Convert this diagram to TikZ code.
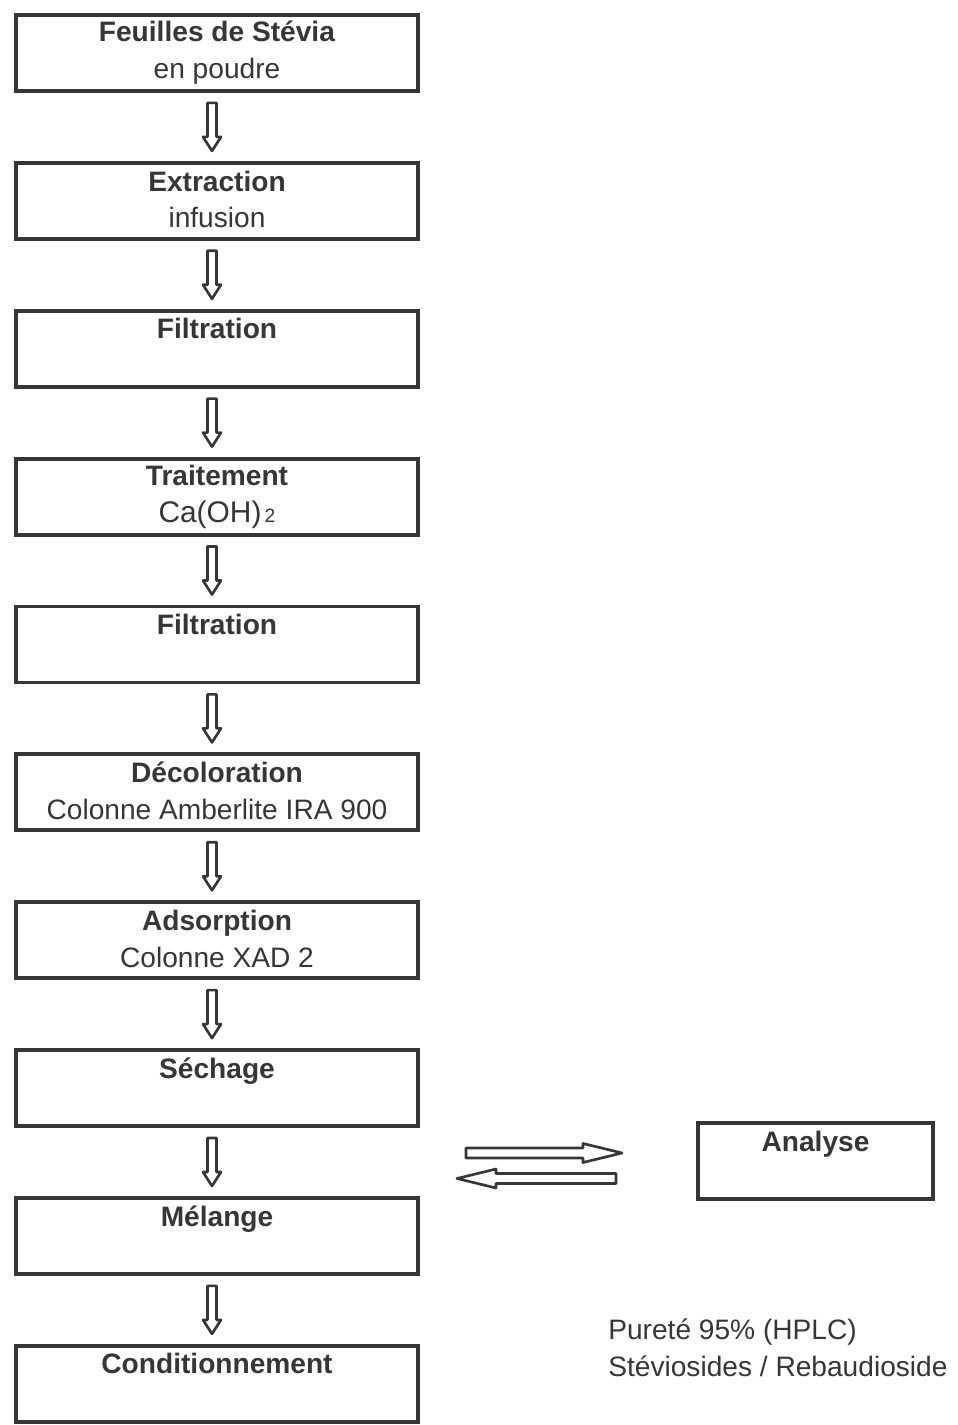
\documentclass[tikz,border=0pt]{standalone}
\usepackage{fontspec}
\setmainfont{Liberation Sans}
\usetikzlibrary{positioning,calc}
\definecolor{ink}{HTML}{363636}

\begin{document}
\begin{tikzpicture}[
  font=\fontsize{16}{21}\selectfont,
  text=ink,
  node distance=1.36cm,
  etape/.style={draw=ink, line width=2.2pt, minimum width=8.04cm, minimum height=1.52cm, inner ysep=0pt, align=center,
    execute at begin node={\rule{0pt}{19.2pt}}, execute at end node={\rule[-1.8pt]{0pt}{1.8pt}}},
  note/.style={align=left, inner sep=0pt, anchor=west, execute at begin node=\strut, execute at end node=\strut},
  fleche/.style n args={3}{draw=ink, fill=white, line width=1.5pt, line join=round,
    to path={($(\tikztostart)!#1!90:(\tikztotarget)$)
      -- ($(\tikztotarget)!#3!(\tikztostart)!#1!-90:(\tikztostart)$)
      -- ($(\tikztotarget)!#3!(\tikztostart)!#2!-90:(\tikztostart)$)
      -- (\tikztotarget)
      -- ($(\tikztotarget)!#3!(\tikztostart)!#2!90:(\tikztostart)$)
      -- ($(\tikztotarget)!#3!(\tikztostart)!#1!90:(\tikztostart)$)
      -- ($(\tikztostart)!#1!-90:(\tikztotarget)$) -- cycle}},
  bas/.style={fleche={0.09cm}{0.18cm}{0.28cm}},
  lat/.style={fleche={0.1cm}{0.19cm}{0.78cm}}
]
\useasboundingbox[fill=white] (0,0) rectangle (19.14,-28.5);

% chaine de traitement
\node[etape] (feuilles) at (4.34,-1.06) {\textbf{Feuilles de Stévia}\\en poudre};
\node[etape, below=of feuilles] (extr) {\textbf{Extraction}\\infusion};
\node[etape, below=of extr] (filt1) {\textbf{Filtration}\\};
\node[etape, below=of filt1] (trait) {\textbf{Traitement}\\{\fontsize{17}{21}\selectfont Ca(OH)}{\fontsize{11}{13}\selectfont\,2}};
\node[etape, below=of trait] (filt2) {\textbf{Filtration}\\};
\node[etape, below=of filt2] (decol) {\textbf{Décoloration}\\Colonne Amberlite IRA 900};
\node[etape, below=of decol] (adsorp) {\textbf{Adsorption}\\Colonne XAD 2};
\node[etape, below=of adsorp] (sech) {\textbf{Séchage}\\};
\node[etape, below=of sech] (melange) {\textbf{Mélange}\\};
\node[etape, below=of melange] (cond) {\textbf{Conditionnement}\\};

% controle
\node[etape, minimum width=4.7cm] (analyse) at (16.31,-23.22) {\textbf{Analyse}\\};
\node[note] (purete) at (12.16,-27.06) {Pureté 95\% (HPLC)\\Stéviosides / Rebaudioside};

\coordinate (aller0) at (9.32,-23.06);
\coordinate (aller1) at (12.44,-23.06);
\coordinate (retour0) at (12.32,-23.57);
\coordinate (retour1) at (9.14,-23.57);

\draw[bas] ([xshift=-0.1cm,yshift=-0.2cm]feuilles.south) to ([xshift=-0.1cm,yshift=0.2cm]extr.north);
\draw[bas] ([xshift=-0.1cm,yshift=-0.2cm]extr.south) to ([xshift=-0.1cm,yshift=0.2cm]filt1.north);
\draw[bas] ([xshift=-0.1cm,yshift=-0.2cm]filt1.south) to ([xshift=-0.1cm,yshift=0.2cm]trait.north);
\draw[bas] ([xshift=-0.1cm,yshift=-0.2cm]trait.south) to ([xshift=-0.1cm,yshift=0.2cm]filt2.north);
\draw[bas] ([xshift=-0.1cm,yshift=-0.2cm]filt2.south) to ([xshift=-0.1cm,yshift=0.2cm]decol.north);
\draw[bas] ([xshift=-0.1cm,yshift=-0.2cm]decol.south) to ([xshift=-0.1cm,yshift=0.2cm]adsorp.north);
\draw[bas] ([xshift=-0.1cm,yshift=-0.2cm]adsorp.south) to ([xshift=-0.1cm,yshift=0.2cm]sech.north);
\draw[bas] ([xshift=-0.1cm,yshift=-0.2cm]sech.south) to ([xshift=-0.1cm,yshift=0.2cm]melange.north);
\draw[bas] ([xshift=-0.1cm,yshift=-0.2cm]melange.south) to ([xshift=-0.1cm,yshift=0.2cm]cond.north);

\draw[lat] (aller0) to (aller1);
\draw[lat] (retour0) to (retour1);
\end{tikzpicture}
\end{document}
